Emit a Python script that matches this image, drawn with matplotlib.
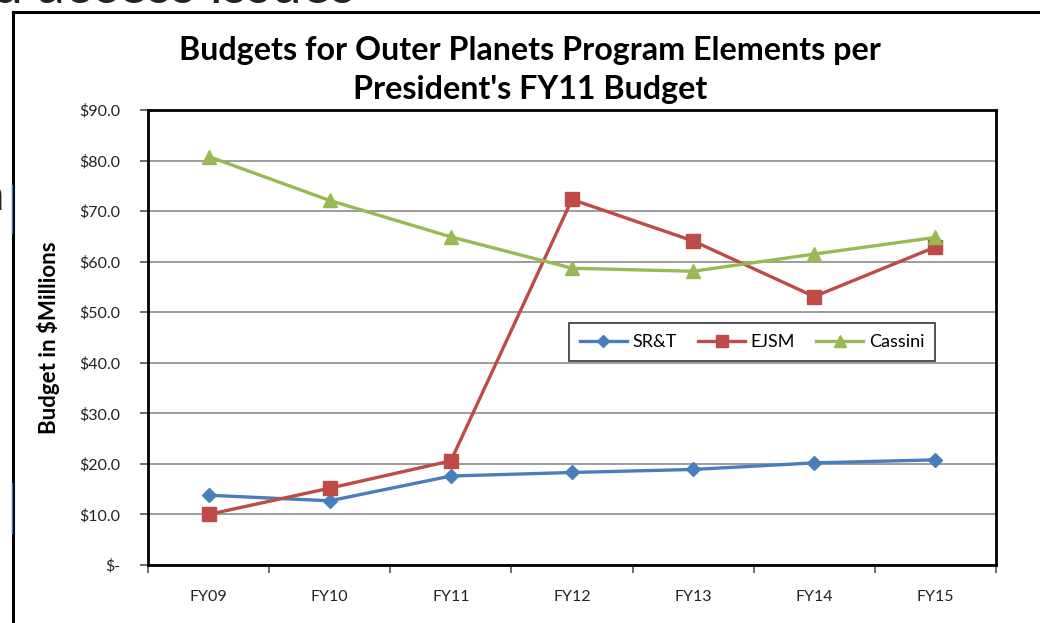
import matplotlib
matplotlib.use("Agg")
import matplotlib.pyplot as plt
from matplotlib.lines import Line2D
from matplotlib.ticker import FixedLocator, NullFormatter

categories = ["FY09", "FY10", "FY11", "FY12", "FY13", "FY14", "FY15"]
srt = [13.8, 12.7, 17.6, 18.3, 18.9, 20.2, 20.8]
ejsm = [10.0, 15.2, 20.6, 72.3, 64.1, 53.1, 62.9]
cassini = [80.8, 72.1, 64.9, 58.7, 58.1, 61.5, 64.8]
yticks = [0, 10, 20, 30, 40, 50, 60, 70, 80, 90]
ytick_labels = ["$-"] + ["${:.1f}".format(v) for v in yticks[1:]]

plt.rcParams['font.family'] = ['Lato', 'DejaVu Sans']

W, H = 1040, 623
fig = plt.figure(figsize=(W / 100, H / 100), dpi=100)
fig.patch.set_facecolor("white")

# slide remnants: frame and partial heading text
fig.add_artist(Line2D([12.5 / W, 12.5 / W], [0, 1 - 12 / H], color="black", lw=2.2))
fig.add_artist(Line2D([12.5 / W, 1.0], [1 - 12 / H, 1 - 12 / H], color="black", lw=2.2))
for y0, y1 in [(185, 233), (483, 533)]:
    fig.add_artist(Line2D([12 / W, 12 / W], [1 - y0 / H, 1 - y1 / H], color="#3C72B8", lw=1.0))
fig.text(-8 / W, 1 - 3 / H, "d access issues", fontsize=40, color="#222222",
         va="baseline", ha="left")
fig.text(4 / W, 1 - 210 / H, "n", fontsize=34, color="#222222", va="baseline", ha="right")

ax = fig.add_axes([148 / W, 1 - 565 / H, (996 - 148) / W, (565 - 110) / H])
x = list(range(len(categories)))

c_blue, c_red, c_green = "#4A7EBB", "#BE4B48", "#98B954"
ax.plot(x, srt, color=c_blue, lw=2.4, marker="D", ms=7.5, label="SR&T", zorder=3)
ax.plot(x, ejsm, color=c_red, lw=2.4, marker="s", ms=10, label="EJSM", zorder=3)
ax.plot(x, cassini, color=c_green, lw=2.4, marker="^", ms=10, label="Cassini", zorder=3)

ax.set_xlim(-0.5, len(categories) - 0.5)
ax.set_ylim(0, 90)
ax.set_yticks(yticks)
ax.set_yticklabels(ytick_labels, fontsize=11.5, color="#222222")
ax.set_xticks(x)
ax.set_xticklabels(categories, fontsize=11.5, color="#222222")
ax.tick_params(axis="x", which="major", length=0, pad=18)
ax.xaxis.set_minor_locator(FixedLocator([i - 0.5 for i in range(len(categories) + 1)]))
ax.xaxis.set_minor_formatter(NullFormatter())
ax.tick_params(axis="x", which="minor", length=6, width=1.2, color="#555555", direction="out")
ax.tick_params(axis="y", length=6, width=1.2, color="#555555", direction="out", pad=14)
ax.yaxis.grid(True, color="#8C8C8C", lw=1.2)
ax.set_axisbelow(True)
for s in ax.spines.values():
    s.set_color("black")
    s.set_linewidth(2)

ax.set_ylabel("Budget in $Millions", fontsize=16, fontweight="bold", labelpad=14)
fig.text(530 / W, 1 - 70 / H, "Budgets for Outer Planets Program Elements per\nPresident's FY11 Budget",
         ha="center", va="center", fontsize=23.2, fontweight="bold", linespacing=1.42)

leg = ax.legend(loc="center", bbox_to_anchor=((752 - 148) / (996 - 148), (565 - 342) / (565 - 110)),
                ncol=3, frameon=True, fancybox=False, fontsize=13, handlelength=2.6,
                columnspacing=1.2, handletextpad=0.3, borderpad=0.6, markerscale=0.8)
leg.get_frame().set_edgecolor("black")
leg.get_frame().set_linewidth(1.2)

fig.savefig("out.png", dpi=100)
